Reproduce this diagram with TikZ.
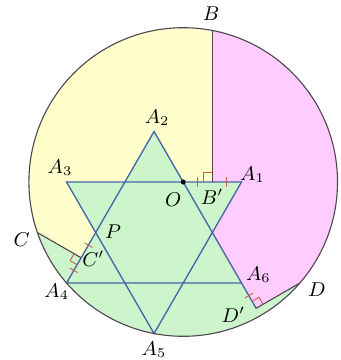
\documentclass[tikz,border=0pt]{standalone}
\usepackage{amsmath, amssymb}
\usetikzlibrary{calc}
\definecolor{fillyellow}{RGB}{255,255,204}
\definecolor{fillpink}{RGB}{255,204,255}
\definecolor{fillgreen}{RGB}{204,245,204}
\definecolor{starblue}{RGB}{70,100,170}
\definecolor{rimgray}{RGB}{80,70,80}
\definecolor{markred}{RGB}{205,95,70}

\begin{document}
\begin{tikzpicture}[
    scale=1.6,
    star/.style={draw=starblue, line width=0.6pt},
    rim/.style={draw=rimgray, line width=0.5pt},
    tick/.style={draw=markred, line width=0.4pt},
    lbl/.style={inner sep=0pt, font=\small}
]
\useasboundingbox (-1.525,-1.262) rectangle (1.842,2.302);
\coordinate (H) at (0,0);
\coordinate (O) at (0.2887,0.5);
\coordinate (A1) at (0.8660,0.5);
\coordinate (A2) at (0,1);
\coordinate (A3) at (-0.8660,0.5);
\coordinate (A4) at (-0.8660,-0.5);
\coordinate (A5) at (0,-1);
\coordinate (A6) at (0.8660,-0.5);
\coordinate (P) at (-0.5774,0);
\coordinate (B) at (0.5774,2);
\coordinate (Bp) at (0.5774,0.5);
\coordinate (C) at (-1.1547,0);
\coordinate (Cp) at (-0.7217,-0.25);
\coordinate (D) at (1.4434,-0.5);
\coordinate (Dp) at (1.0104,-0.75);

\fill[fillgreen] (O) circle[radius=1.5275];
\fill[fillyellow] (B) arc[start angle=79.107, end angle=199.107, radius=1.5275]
    -- (Cp) -- (H) -- (Bp) -- cycle;
\fill[fillpink] (B) arc[start angle=79.107, end angle=-40.893, radius=1.5275]
    -- (Dp) -- (A6) -- (H) -- (Bp) -- cycle;
\fill[fillgreen] (A2) -- (A4) -- (A6) -- cycle;
\fill[fillgreen] (A1) -- (A3) -- (A5) -- cycle;

\draw[star] (A2) -- (A4) -- (A6) -- cycle;
\draw[star] (A1) -- (A3) -- (A5) -- cycle;
\draw[star] (A6) -- (Dp);
\draw[rim] (B) -- (Bp);
\draw[rim] (C) -- (Cp);
\draw[rim] (D) -- (Dp);
\draw[rim] (O) circle[radius=1.5275];

\draw[tick] (Bp) ++(-0.09,0) -- ++(0,0.09) -- ++(0.09,0);
\draw[tick] (Cp) ++(-0.069,0.04) -- ++(-0.04,-0.069) -- ++(0.069,-0.04);
\draw[tick] (Dp) ++(-0.04,0.069) -- ++(0.069,0.04) -- ++(0.04,-0.069);
\foreach \pt/\ang in {{(0.433,0.5)}/90, {(0.7217,0.5)}/90,
    {(-0.6495,-0.125)}/150, {(-0.7939,-0.375)}/150, {(0.9382,-0.625)}/30}
    \draw[tick] \pt ++(\ang:0.045) -- ++(\ang+180:0.09);

\fill (O) circle[radius=0.025];

\node[lbl] (lB) at (0.564,2.163) {$B$};
\node[lbl] (lA2) at (0.03,1.134) {$A_2$};
\node[lbl] (lA3) at (-0.931,0.639) {$A_3$};
\node[lbl] (lA1) at (0.975,0.57) {$A_1$};
\node[lbl] (lO) at (0.191,0.322) {$O$};
\node[lbl] (lBp) at (0.575,0.354) {$B'$};
\node[lbl] (lP) at (-0.406,0.008) {$P$};
\node[lbl] (lCp) at (-0.60,-0.262) {$C'$};
\node[lbl] (lC) at (-1.31,-0.074) {$C$};
\node[lbl] (lA4) at (-0.963,-0.586) {$A_4$};
\node[lbl] (lA5) at (0,-1.163) {$A_5$};
\node[lbl] (lA6) at (1.033,-0.421) {$A_6$};
\node[lbl] (lD) at (1.611,-0.569) {$D$};
\node[lbl] (lDp) at (0.785,-0.817) {$D'$};
\end{tikzpicture}
\end{document}
